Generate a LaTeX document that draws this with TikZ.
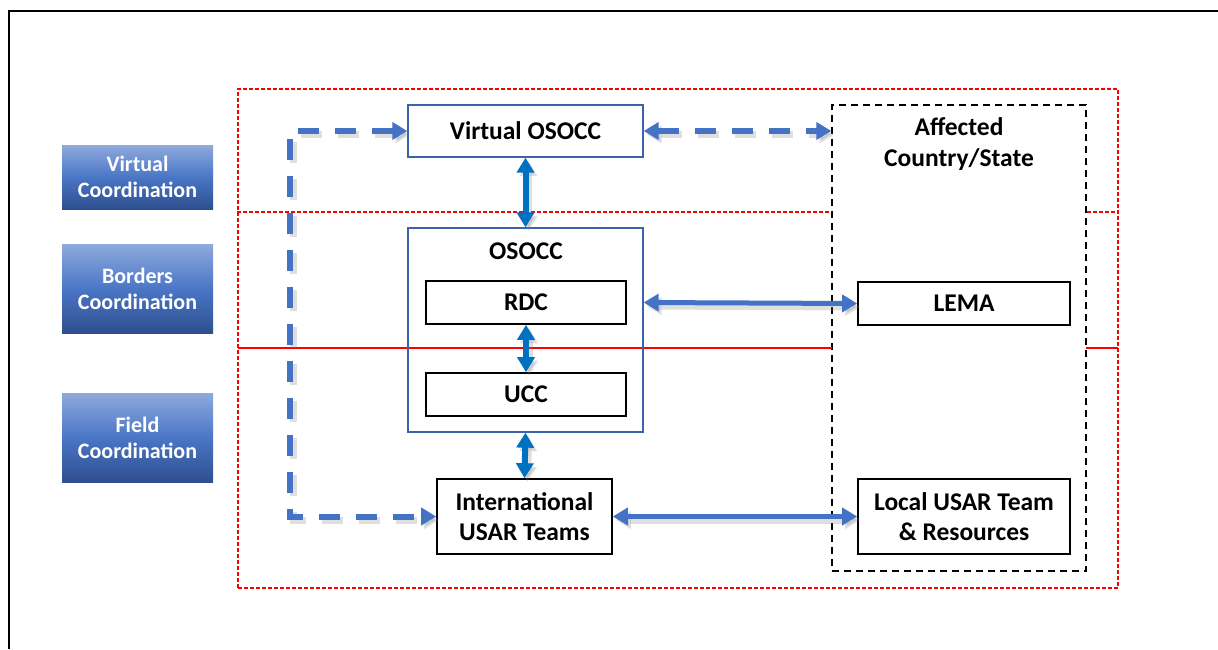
\documentclass[tikz,border=0pt]{standalone}
\usepackage{fontspec}
\setmainfont{Carlito}
\usetikzlibrary{arrows.meta,calc}
\definecolor{arrblue}{HTML}{4472C4}
\definecolor{vblue}{HTML}{0070C0}
\definecolor{boxblue}{HTML}{3A63AC}
\definecolor{lblTop}{HTML}{8FAADC}
\definecolor{lblMid}{HTML}{4A76C6}
\definecolor{lblBot}{HTML}{2E4F8E}
\definecolor{myred}{HTML}{FF0000}
\tikzset{
  lbl/.style={rectangle, minimum width=151pt, align=center, text=white,
    font=\fontsize{22}{26}\selectfont\bfseries, inner sep=0pt,
    top color=lblTop, bottom color=lblBot, middle color=lblMid},
  bluebox/.style={rectangle, draw=boxblue, line width=1.3pt, minimum width=235pt, inner sep=0pt},
  blackbox/.style={rectangle, draw=black, line width=1.6pt, fill=white, align=center, inner sep=0pt,
    font=\fontsize{25.5}{30.5}\selectfont\bfseries},
  ttl/.style={align=center, inner sep=0pt, font=\fontsize{25.5}{31}\selectfont\bfseries},
  shad/.style={preaction={draw=black!50, opacity=0.25, line width=7pt, #1, transform canvas={shift={(3pt,-3.5pt)}}}},
  shad/.default={},
  dtip/.style={{Triangle[length=15pt,width=17pt]}-{Triangle[length=15pt,width=17pt]}},
  dasharr/.style={draw=arrblue, line width=6pt, dash pattern=on 21pt off 16pt, dtip, shad={dash pattern=on 21pt off 16pt}},
  solarr/.style={draw=vblue, line width=6pt, dtip, shad},
  harr/.style={draw=arrblue, line width=5pt, dtip, shad},
  reddash/.style={draw=myred, line width=1.3pt, dash pattern=on 4pt off 2pt},
  redband/.style={fill=myred, draw=none},
}
\begin{document}
\begin{tikzpicture}[x=1pt,y=-1pt]
\useasboundingbox (0,0) rectangle (1218,649);
% outer frame (only top and left are visible)
\draw[line width=2pt, black] (1218,11) -- (9,11) -- (9,649);

% red dashed region
\node[rectangle, reddash, minimum width=880pt, minimum height=499pt, inner sep=0pt] (outer) at (678,338.5) {};
% affected country dashed box
\node[rectangle, draw=black, line width=1.3pt, dash pattern=on 7pt off 5pt, minimum width=254pt, minimum height=466pt, inner sep=0pt] (aff) at (959,338) {};
\node[ttl] (affT) at (959,144) {Affected\\Country/State};

% separator lines
\coordinate (s1) at (0,212);
\draw[reddash] (outer.west |- s1) -- (aff.west |- s1);
\draw[reddash] (aff.east |- s1) -- (outer.east |- s1);
\fill[redband] (238,346.8) rectangle (832,348.6);
\fill[redband] (1086,346.8) rectangle (1118,348.6);

% left labels
\node[lbl, minimum height=64pt] (vc) at (137.5,177) {Virtual\\Coordination};
\node[lbl, minimum height=89pt] (bc) at (137.5,288.5) {Borders\\Coordination};
\node[lbl, minimum height=89pt] (fc) at (137.5,437.5) {Field\\Coordination};

% boxes
\node[bluebox, minimum height=52pt, ttl] (vos) at (525.5,131) {Virtual OSOCC};
\node[bluebox, minimum height=204pt] (osocc) at (525.5,330) {};
\node[ttl] (osoccT) at (526,251) {OSOCC};
\node[blackbox, minimum width=200pt, minimum height=43pt] (rdc) at (526,302.5) {RDC};
\node[blackbox, minimum width=200pt, minimum height=43pt] (ucc) at (526,394.5) {UCC};
\node[blackbox, minimum width=175pt, minimum height=75pt] (intl) at (524.5,516.5) {International\\USAR Teams};
\node[blackbox, minimum width=212pt, minimum height=43pt] (lema) at (964,303.5) {LEMA};
\node[blackbox, minimum width=212pt, minimum height=75pt] (local) at (964,516.5) {Local USAR Team\\\& Resources};

% connectors
\coordinate (corner) at (290,516.5);
\draw[dasharr] (vos.west) -| (corner) -- (intl.west);
\draw[dasharr] (vos.east) -- (aff.west |- vos.east);
\draw[solarr] (vos.south) -- (osocc.north);
\draw[solarr] (rdc.south) -- (ucc.north);
\draw[solarr] (osocc.south) -- (intl.north);
\draw[harr] (osocc.east |- rdc.east) -- (lema.west);
\draw[harr] (intl.east) -- (local.west);
\end{tikzpicture}
\end{document}
